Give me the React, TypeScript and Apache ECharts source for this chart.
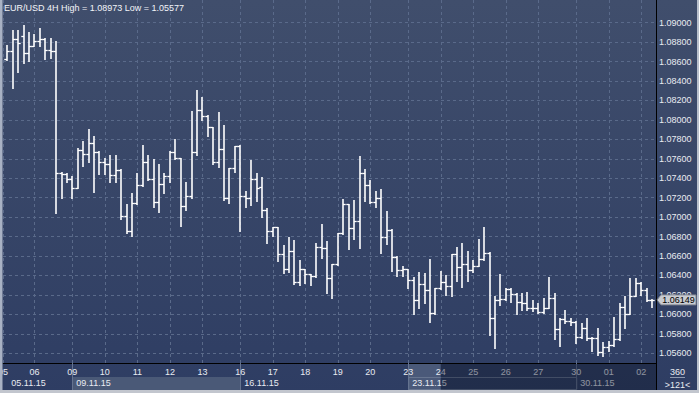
import React, { useEffect, useRef } from 'react';
import * as echarts from 'echarts';

const SYMBOL = 'EUR/USD';
const PERIOD = '4H';
const BARS_INFO = '360';
const SCROLL_INFO = '>121<';

// 4H OHLC bars, 05.11.15 .. 02.12.15
const opens = [
  1.08627, 1.08709, 1.08832, 1.08863, 1.08685, 1.08763, 1.08812, 1.08832, 1.08719, 1.08709,
  1.07451, 1.07444, 1.07393, 1.07303, 1.07691, 1.07647, 1.07763, 1.07673, 1.0757, 1.07547,
  1.07434, 1.07485, 1.07009, 1.06858, 1.07143, 1.07331, 1.0757, 1.0739, 1.07153, 1.07341,
  1.07427, 1.07673, 1.07605, 1.07112, 1.07218, 1.07667, 1.08102, 1.08041, 1.07924, 1.07564,
  1.07701, 1.07194, 1.07509, 1.07732, 1.07218, 1.07194, 1.0739, 1.07307, 1.07074, 1.06858,
  1.06896, 1.06618, 1.06467, 1.06652, 1.0633, 1.06467, 1.06413, 1.06395, 1.06696, 1.0668,
  1.06378, 1.06515, 1.06834, 1.07132, 1.06886, 1.06961, 1.07457, 1.07331, 1.07159, 1.07194,
  1.06793, 1.06868, 1.06594, 1.06457, 1.06464, 1.06354, 1.06148, 1.06313, 1.06251, 1.06012,
  1.06269, 1.0633, 1.06292, 1.06618, 1.06485, 1.06518, 1.06457, 1.06501, 1.06567, 1.06635,
  1.05966, 1.06148, 1.06159, 1.06261, 1.0621, 1.06131, 1.06114, 1.06069, 1.06063, 1.06028,
  1.06069, 1.06172, 1.05847, 1.0595, 1.05935, 1.05925, 1.05771, 1.05857, 1.0576, 1.05754,
  1.05617, 1.05662, 1.05686, 1.05744, 1.06073, 1.06004, 1.06189, 1.0632, 1.06251, 1.06148,
];
const highs = [
  1.08771, 1.08925, 1.08925, 1.08973, 1.08907, 1.08881, 1.08942, 1.08846, 1.0884, 1.08812,
  1.07468, 1.0745, 1.07423, 1.07708, 1.07783, 1.07904, 1.07838, 1.0768, 1.07605, 1.07639,
  1.07639, 1.0749, 1.07132, 1.07246, 1.07451, 1.07742, 1.07639, 1.07598, 1.07544, 1.07451,
  1.07681, 1.07804, 1.0761, 1.07359, 1.08092, 1.08308, 1.08239, 1.08051, 1.0793, 1.08079,
  1.07948, 1.07509, 1.07732, 1.0774, 1.07269, 1.07588, 1.07451, 1.07416, 1.07091, 1.06902,
  1.069, 1.06714, 1.06793, 1.06765, 1.0656, 1.0647, 1.06418, 1.06738, 1.0693, 1.06758,
  1.06515, 1.06834, 1.07184, 1.07135, 1.07177, 1.07629, 1.07492, 1.07382, 1.07269, 1.07287,
  1.07064, 1.06878, 1.066, 1.06498, 1.0647, 1.06382, 1.06439, 1.06423, 1.06567, 1.06269,
  1.0645, 1.06405, 1.06621, 1.06696, 1.06731, 1.06652, 1.0656, 1.06776, 1.06902, 1.0664,
  1.06189, 1.06416, 1.06269, 1.06275, 1.06215, 1.06223, 1.06234, 1.06148, 1.06114, 1.06166,
  1.06388, 1.06217, 1.05966, 1.06045, 1.0596, 1.05935, 1.05909, 1.0596, 1.05765, 1.05857,
  1.05719, 1.0573, 1.0597, 1.06114, 1.06189, 1.06371, 1.06371, 1.06335, 1.06269, 1.06155,
];
const lows = [
  1.08616, 1.08332, 1.08496, 1.08582, 1.08609, 1.08755, 1.08763, 1.08624, 1.0864, 1.0704,
  1.072, 1.07365, 1.072, 1.07297, 1.07529, 1.0757, 1.07262, 1.07444, 1.0744, 1.07365,
  1.07365, 1.06981, 1.06837, 1.0681, 1.07132, 1.07325, 1.07385, 1.07108, 1.07056, 1.07246,
  1.07365, 1.07598, 1.06912, 1.07074, 1.07194, 1.07639, 1.07999, 1.07838, 1.07544, 1.07519,
  1.07177, 1.07143, 1.07468, 1.06861, 1.07108, 1.07125, 1.0717, 1.07005, 1.06738, 1.06806,
  1.06552, 1.06429, 1.06439, 1.0631, 1.06303, 1.06326, 1.06303, 1.06388, 1.06583, 1.06223,
  1.06172, 1.0651, 1.0683, 1.0667, 1.06773, 1.06686, 1.0717, 1.07143, 1.07102, 1.06635,
  1.06721, 1.0645, 1.06395, 1.06395, 1.06275, 1.06004, 1.06069, 1.06114, 1.05925, 1.06005,
  1.06262, 1.062, 1.06189, 1.06344, 1.06285, 1.06344, 1.06436, 1.06495, 1.0656, 1.05788,
  1.05658, 1.06097, 1.06148, 1.06131, 1.06001, 1.06045, 1.06045, 1.06038, 1.06012, 1.06012,
  1.06065, 1.05744, 1.05678, 1.05909, 1.05891, 1.05703, 1.0576, 1.05737, 1.05627, 1.05583,
  1.05577, 1.05627, 1.05675, 1.0574, 1.05857, 1.06, 1.06185, 1.062, 1.06141, 1.06073,
];
const closes = [
  1.08709, 1.08832, 1.08788, 1.08685, 1.08763, 1.08812, 1.08832, 1.08719, 1.08709, 1.07451,
  1.07444, 1.07393, 1.07303, 1.07691, 1.07647, 1.07763, 1.07673, 1.0757, 1.07547, 1.07434,
  1.07485, 1.07009, 1.06858, 1.07143, 1.07331, 1.0757, 1.0739, 1.07153, 1.07341, 1.07427,
  1.07673, 1.07605, 1.07112, 1.07218, 1.07667, 1.08102, 1.08041, 1.07924, 1.07564, 1.07701,
  1.07194, 1.07509, 1.07732, 1.07218, 1.07194, 1.0739, 1.07303, 1.07074, 1.06858, 1.06896,
  1.06618, 1.06467, 1.06652, 1.0633, 1.06467, 1.06413, 1.06395, 1.06696, 1.0668, 1.06378,
  1.06515, 1.06834, 1.07132, 1.06886, 1.06961, 1.07457, 1.07331, 1.07159, 1.07194, 1.06793,
  1.06868, 1.06594, 1.06457, 1.06464, 1.06354, 1.06148, 1.06313, 1.06251, 1.06012, 1.06269,
  1.0633, 1.06292, 1.06618, 1.06485, 1.06518, 1.06457, 1.06501, 1.06567, 1.06635, 1.05966,
  1.06148, 1.06159, 1.06261, 1.0621, 1.06131, 1.06114, 1.06069, 1.06063, 1.06028, 1.06069,
  1.06172, 1.05847, 1.0595, 1.05935, 1.05925, 1.05771, 1.05857, 1.0576, 1.05754, 1.05617,
  1.05662, 1.05686, 1.05744, 1.06073, 1.06004, 1.06189, 1.0632, 1.06251, 1.06148, 1.06149,
];

// x axis: bar index where each day starts, and its label
const X_MIN = -0.8;
const X_MAX = 119.72;
const dayTicks = [X_MIN, 5, 12, 18, 24, 30, 36, 43, 49, 55, 61, 67, 74, 80, 86, 92, 98, 105, 111, 117];
const dayLabels = ['05', '06', '09', '10', '11', '12', '13', '16', '17', '18', '19', '20', '23', '24', '25', '26', '27', '30', '01', '02'];
const weekTicks = [0, 12, 43, 74, 105];
const weekLabels = ['05.11.15', '09.11.15', '16.11.15', '23.11.15', '30.11.15'];

// y axis
const Y_MIN = 1.055;
const Y_MAX = 1.09233;
const priceTicks = [
  1.056, 1.058, 1.06, 1.062, 1.064, 1.066, 1.068, 1.07, 1.072,
  1.074, 1.076, 1.078, 1.08, 1.082, 1.084, 1.086, 1.088, 1.09,
];

const FONT = "'Liberation Sans', Arial, sans-serif";
const BAR_COLOR = '#ffffff';
const GRID_COLOR = '#5a6a8a';
const TEXT_COLOR = '#e9ecf2';

export default function App() {
  const ref = useRef<HTMLDivElement>(null);

  useEffect(() => {
    const el = ref.current;
    if (!el) return;
    const chart = echarts.init(el, null, { renderer: 'svg' });
    const data = opens.map((o, i) => [i, o, highs[i], lows[i], closes[i]]);
    const hi = Math.max(...highs).toFixed(5);
    const lo = Math.min(...lows).toFixed(5);

    chart.setOption({
      animation: false,
      backgroundColor: {
        type: 'linear', x: 0, y: 0, x2: 0, y2: 1,
        colorStops: [
          { offset: 0, color: '#404e6c' },
          { offset: 1, color: '#2e3d63' },
        ],
      },
      title: {
        text: `${SYMBOL} ${PERIOD} High = ${hi} Low = ${lo}`,
        left: 4, top: 3, padding: 0,
        textStyle: { color: '#f2f4f8', fontSize: 9, fontWeight: 'normal', fontFamily: FONT },
      },
      grid: { left: 3, right: 43, top: 0, bottom: 30, outerBoundsMode: 'none' },
      xAxis: [
        {
          type: 'value', min: X_MIN, max: X_MAX, position: 'bottom',
          axisLine: { show: true, onZero: false, lineStyle: { color: '#000000', width: 1 } },
          axisTick: { show: false, customValues: dayTicks },
          axisLabel: {
            customValues: dayTicks,
            formatter: (v: number) => dayLabels[dayTicks.indexOf(v)] ?? '',
            color: TEXT_COLOR, fontSize: 9, fontFamily: FONT, margin: 4, hideOverlap: false,
          },
          splitLine: { show: true, lineStyle: { color: GRID_COLOR, type: [3, 3], width: 1 } },
        },
        {
          type: 'value', min: X_MIN, max: X_MAX, position: 'bottom', offset: 0,
          axisLine: { show: false, onZero: false },
          axisTick: {
            show: true, inside: false, length: 27, customValues: weekTicks.slice(1),
            lineStyle: { color: '#65738f', width: 1 },
          },
          axisLabel: {
            customValues: weekTicks,
            formatter: (v: number) => weekLabels[weekTicks.indexOf(v)] ?? '',
            color: TEXT_COLOR, fontSize: 9, fontFamily: FONT, margin: 15, align: 'left',
            padding: [0, 0, 0, 4], hideOverlap: false,
          },
          splitLine: { show: false },
        },
      ],
      yAxis: {
        type: 'value', position: 'right', min: Y_MIN, max: Y_MAX, scale: true,
        axisLine: { show: true, onZero: false, lineStyle: { color: '#000000', width: 1 } },
        axisTick: { show: false, customValues: priceTicks },
        axisLabel: {
          customValues: priceTicks,
          formatter: (v: number) => v.toFixed(5),
          color: TEXT_COLOR, fontSize: 9, fontFamily: FONT, margin: 3, hideOverlap: false,
        },
        splitLine: { show: true, lineStyle: { color: GRID_COLOR, type: [3, 3], width: 1 } },
      },
      series: [
        {
          type: 'custom',
          name: SYMBOL,
          data,
          encode: { x: 0, y: [1, 2, 3, 4] },
          z: 5,
          renderItem: (_params: any, api: any) => {
            const i = api.value(0);
            const o = api.coord([i, api.value(1)]);
            const h = api.coord([i, api.value(2)]);
            const l = api.coord([i, api.value(3)]);
            const c = api.coord([i, api.value(4)]);
            const half = api.size([1, 0])[0] * 0.5;
            const x = Math.round(o[0]);
            const oy = Math.round(o[1]) + 0.5;
            const cy = Math.round(c[1]) + 0.5;
            return {
              type: 'group',
              children: [
                { type: 'line', shape: { x1: x, y1: Math.round(h[1]), x2: x, y2: Math.round(l[1]) + 1 }, style: { stroke: BAR_COLOR, lineWidth: 1.6 } },
                { type: 'line', shape: { x1: x - half, y1: oy, x2: x, y2: oy }, style: { stroke: BAR_COLOR, lineWidth: 1.3 } },
                { type: 'line', shape: { x1: x, y1: cy, x2: x + half, y2: cy }, style: { stroke: BAR_COLOR, lineWidth: 1.3 } },
              ],
            };
          },
        },
      ],
    });

    const px = (v: number) => chart.convertToPixel({ xAxisIndex: 0 }, v) as number;
    const py = (v: number) => chart.convertToPixel({ yAxisIndex: 0 }, v) as number;
    const left = px(X_MIN);
    const right = px(X_MAX);
    const bottom = py(Y_MIN);
    const stripBottom = bottom + 27;
    const row2 = bottom + 14;
    const wk1 = px(weekTicks[1]);
    const wk2 = px(weekTicks[2]);
    const wk3 = px(weekTicks[3]);
    const wk4 = px(weekTicks[4]);
    const cur = px(dayTicks[13]);
    const last = closes[closes.length - 1];
    const ly = py(last);
    const W = 699;
    const H = 393;

    chart.setOption({
      graphic: [
        // week highlight box
        { type: 'rect', z: -5, shape: { x: wk1, y: row2, width: wk2 - wk1, height: stripBottom - row2 }, style: { fill: '#4a5977' } },
        // current window marker
        { type: 'rect', z: -5, shape: { x: wk3, y: bottom + 1, width: cur - wk3, height: stripBottom - bottom - 1 }, style: { fill: '#4a5979' } },
        { type: 'rect', z: -4, shape: { x: wk3 + 0.5, y: row2 + 0.5, width: wk4 - wk3, height: stripBottom - row2 - 1 }, style: { fill: 'none', stroke: '#66748f', lineWidth: 1 } },
        // dimmed future part
        { type: 'rect', z: 50, shape: { x: cur, y: bottom + 1, width: right - cur, height: stripBottom - bottom - 1 }, style: { fill: 'rgba(16,24,44,0.42)' } },
        // black separator continuing down
        { type: 'line', z: 60, shape: { x1: right + 0.5, y1: bottom, x2: right + 0.5, y2: stripBottom }, style: { stroke: '#000000', lineWidth: 1 } },
        // right bottom info box
        { type: 'text', z: 60, style: { x: (right + W) / 2, y: bottom + 9, text: BARS_INFO, fill: TEXT_COLOR, font: `9px ${FONT}`, align: 'center', verticalAlign: 'middle' } },
        { type: 'line', z: 60, shape: { x1: right + 14, y1: bottom + 14.5, x2: right + 29, y2: bottom + 14.5 }, style: { stroke: '#8f9ab0', lineWidth: 1 } },
        { type: 'text', z: 60, style: { x: (right + W) / 2, y: bottom + 21.5, text: SCROLL_INFO, fill: TEXT_COLOR, font: `9px ${FONT}`, align: 'center', verticalAlign: 'middle' } },
        // current price tag
        {
          type: 'polygon', z: 70,
          shape: { points: [[right + 1, ly], [right + 5, ly - 5], [W - 3, ly - 5], [W - 3, ly + 5], [right + 5, ly + 5]] },
          style: { fill: '#c9ccd2', stroke: '#7d838e', lineWidth: 1 },
        },
        { type: 'text', z: 71, style: { x: (right + 5 + W - 3) / 2, y: ly + 0.5, text: last.toFixed(5), fill: '#000000', font: `9px ${FONT}`, align: 'center', verticalAlign: 'middle' } },
        // frame
        { type: 'rect', z: 80, shape: { x: 0, y: 0, width: left - 0.5, height: H }, style: { fill: '#a9b2c4' } },
        { type: 'rect', z: 80, shape: { x: W - 2, y: 0, width: 2, height: H }, style: { fill: '#b9c0cc' } },
        { type: 'rect', z: 80, shape: { x: 0, y: stripBottom, width: W, height: H - stripBottom }, style: { fill: '#c2c6ce' } },
      ],
    });

    return () => chart.dispose();
  }, []);

  return <div ref={ref} style={{ position: 'fixed', left: 0, top: 0, width: 699, height: 393 }} />;
}
